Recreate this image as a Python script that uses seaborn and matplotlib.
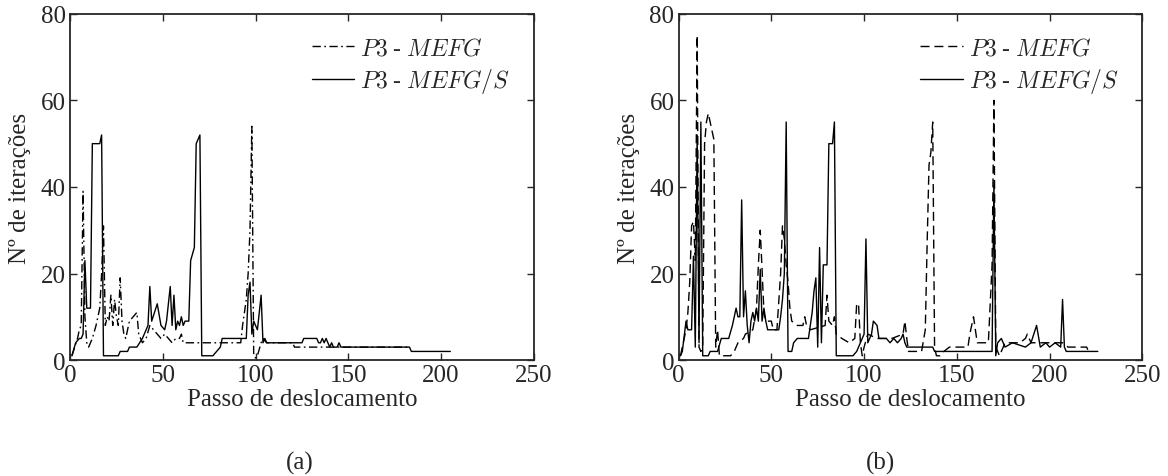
import matplotlib
matplotlib.use("Agg")
import matplotlib.pyplot as plt
import seaborn as sns
import pandas as pd

# ---------------- data: (step, iterations) ----------------
# (a) left panel
a_mefg = [(1, 1), (4, 5), (5, 7), (6, 8), (7, 39), (8, 10), (9, 4), (10, 3), (12, 5), (14, 8), (16, 12),
          (17, 20), (18, 31), (19, 8), (20, 10), (21, 9), (22, 15), (23, 8), (24, 14), (25, 10), (26, 8),
          (27, 19), (28, 9), (29, 6), (30, 5), (32, 9), (34, 10), (36, 11), (37, 6), (39, 4), (41, 5),
          (43, 8), (45, 7), (47, 6), (49, 5), (51, 6), (53, 5), (55, 4), (57, 5), (59, 5), (60, 6),
          (61, 4), (92, 4), (93, 8), (95, 14), (96, 20), (97, 30), (98, 54), (99, 1), (100, 0.5),
          (101, 1), (103, 4), (104, 5), (106, 4), (120, 4), (121, 3), (183, 3)]

a_mefgs = [(1, 1), (3, 4), (5, 5), (6, 5), (7, 6), (8, 23), (9, 12), (11, 12), (12, 50), (16, 50),
           (17, 52), (18, 1), (26, 1), (27, 2), (31, 2), (32, 3), (36, 3), (39, 5), (42, 8), (43, 17),
           (44, 9), (47, 13), (49, 8), (51, 7), (52, 9), (54, 17), (55, 8), (56, 15), (57, 7), (58, 9),
           (59, 8), (60, 10), (61, 8), (62, 9), (64, 9), (65, 23), (67, 26), (68, 50), (69, 51),
           (70, 52), (71, 1), (77, 1), (79, 2), (81, 3), (82, 5), (95, 5), (96, 15), (97, 18), (98, 6),
           (99, 9), (100, 8), (101, 7), (103, 15), (104, 4), (105, 5), (106, 4), (125, 4), (126, 5),
           (133, 5), (134, 4), (135, 4), (136, 5), (137, 4), (138, 5), (139, 4), (140, 3), (141, 4),
           (142, 3), (144, 3), (145, 4), (146, 3), (183, 3), (184, 2), (205, 2)]

# (b) right panel
b_mefg = [(1, 1), (4, 7), (5, 11), (6, 18), (7, 31), (8, 32), (9, 23), (10, 75), (11, 3), (12, 2),
          (13, 3), (14, 50), (15, 55), (16, 57), (17, 55), (18, 53), (19, 51), (20, 3), (21, 7), (22, 1),
          (28, 1), (30, 2), (32, 4), (35, 5), (36, 6), (40, 7), (42, 12), (43, 22), (44, 30), (45, 21),
          (46, 11), (47, 9), (50, 9), (51, 7), (53, 7), (55, 20), (56, 31), (57, 28), (58, 22), (59, 18),
          (60, 12), (61, 9), (64, 8), (67, 8), (68, 10), (69, 8), (71, 7), (79, 8), (80, 15), (81, 9),
          (83, 8), (84, 10), (85, 6), (88, 5), (92, 4), (95, 5), (96, 13), (97, 13), (98, 4), (99, 1),
          (100, 3), (102, 6), (107, 5), (115, 5), (121, 6), (122, 9), (123, 5), (124, 2), (131, 2),
          (133, 7), (134, 27), (135, 45), (136, 48), (137, 55), (138, 3), (139, 1), (141, 1), (143, 2),
          (146, 3), (156, 3), (157, 6), (159, 10), (161, 4), (167, 4), (169, 22), (170, 60), (171, 3),
          (173, 1), (176, 4), (184, 4), (187, 5), (188, 6), (190, 4), (207, 4), (210, 3), (220, 3),
          (221, 2)]

b_mefgs = [(1, 1), (2, 2), (4, 9), (5, 7), (7, 7), (8, 24), (9, 3), (10, 52), (11, 4), (12, 55), (13, 1),
           (16, 1), (17, 2), (21, 2), (23, 5), (27, 5), (29, 8), (30, 10), (31, 12), (32, 10), (33, 10),
           (34, 37), (35, 10), (36, 16), (37, 8), (38, 4), (39, 9), (40, 11), (41, 9), (42, 12), (43, 9),
           (44, 21), (45, 9), (46, 12), (47, 9), (48, 7), (54, 7), (55, 10), (56, 14), (57, 20), (58, 55),
           (59, 2), (61, 2), (62, 4), (64, 5), (70, 5), (72, 11), (73, 16), (74, 19), (75, 3), (76, 26),
           (77, 4), (78, 22), (80, 22), (81, 50), (83, 50), (84, 55), (85, 1), (94, 1), (96, 2), (98, 4),
           (100, 6), (101, 28), (102, 4), (104, 6), (105, 9), (107, 8), (108, 5), (112, 5), (114, 4),
           (116, 5), (118, 4), (120, 5), (121, 6), (122, 4), (123, 3), (137, 3), (138, 2), (169, 2),
           (170, 41), (171, 1), (172, 4), (174, 5), (176, 3), (180, 4), (187, 3), (190, 4), (193, 8),
           (195, 3), (198, 4), (200, 3), (203, 4), (206, 3), (207, 14), (208, 3), (209, 2), (226, 2)]

legend_labels = [r"$\mathit{P3}$ - $\mathit{MEFG}$", r"$\mathit{P3}$ - $\mathit{MEFG/S}$"]
xlabel = "Passo de deslocamento"
ylabel = "Nº de iterações"
panel_labels = ["(a)", "(b)"]
xticks = [0, 50, 100, 150, 200, 250]
yticks = [0, 20, 40, 60, 80]

# ---------------- style ----------------
sns.set_style("ticks")
plt.rcParams["font.family"] = ["Liberation Serif", "DejaVu Serif"]
plt.rcParams["mathtext.fontset"] = "cm"

fig = plt.figure(figsize=(11.68, 4.77), dpi=100)
ax1 = fig.add_axes([0.060, 0.243, 0.397, 0.726])
ax2 = fig.add_axes([0.581, 0.243, 0.397, 0.726])

dashdot = (0, (6, 2.5, 1.2, 2.5))
dashed = (0, (6.5, 3.5))

panels = [(ax1, a_mefg, a_mefgs, dashdot), (ax2, b_mefg, b_mefgs, dashed)]

FS = 18
for ax, s1, s2, ls in panels:
    df1 = pd.DataFrame(s1, columns=["x", "y"])
    df2 = pd.DataFrame(s2, columns=["x", "y"])
    sns.lineplot(data=df1, x="x", y="y", ax=ax, color="black", linewidth=1.0,
                 linestyle=ls, estimator=None, sort=False, label=legend_labels[0])
    sns.lineplot(data=df2, x="x", y="y", ax=ax, color="black", linewidth=1.0,
                 linestyle="-", estimator=None, sort=False, label=legend_labels[1])
    ax.set_xlim(0, 250)
    ax.set_ylim(0, 80)
    ax.set_xticks(xticks)
    ax.set_yticks(yticks)
    ax.tick_params(direction="in", top=True, right=True, length=5, width=1.0,
                   labelsize=FS, colors="#262626", pad=3)
    for sp in ax.spines.values():
        sp.set_visible(True)
        sp.set_linewidth(1.3)
        sp.set_color("#262626")
    ax.set_xlabel(xlabel, fontsize=FS, color="#262626", labelpad=1)
    ax.set_ylabel(ylabel, fontsize=FS, color="#262626", labelpad=7)
    ax.legend(loc="upper right", frameon=False, fontsize=17, handlelength=1.8,
              handletextpad=0.25, labelspacing=0.3, borderaxespad=0.6)

fig.text(0.257, 0.029, panel_labels[0], ha="center", va="center", fontsize=FS, color="#262626")
fig.text(0.754, 0.029, panel_labels[1], ha="center", va="center", fontsize=FS, color="#262626")

fig.savefig("out.png", dpi=100)
